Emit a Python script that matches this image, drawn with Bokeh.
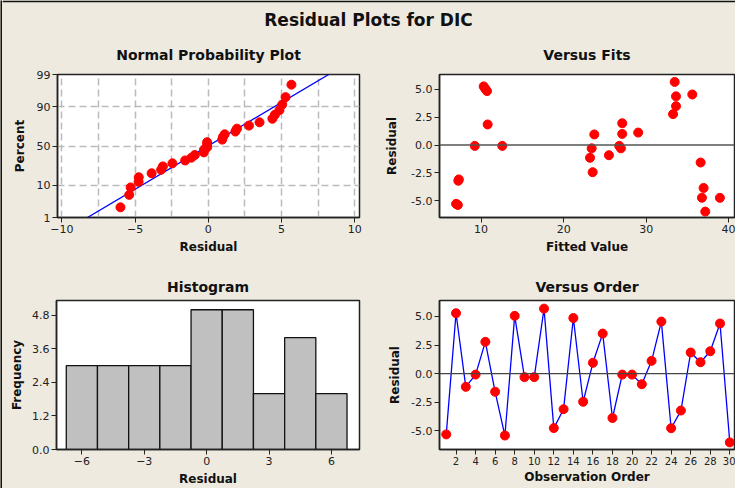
import numpy as np
from statistics import NormalDist
from bokeh.plotting import figure
from bokeh.layouts import column, row
from bokeh.models import FixedTicker, PrintfTickFormatter, Span, Label
from bokeh.embed import file_html
from bokeh.resources import INLINE

# ---------------- data ----------------
observation = list(range(1, 31))
residuals = [-5.30, 5.28, -1.15, -0.08, 2.78, -1.58, -5.40, 5.05, -0.30, -0.30,
             5.68, -4.75, -3.10, 4.86, -2.45, 0.95, 3.50, -3.87, -0.08, -0.08,
             -0.92, 1.12, 4.55, -4.76, -3.22, 1.85, 1.00, 1.96, 4.38, -6.00]
fitted = [6.98, 10.32, 23.19, 9.24, 33.24, 36.58, 7.19, 10.52, 23.39, 26.93,
          33.44, 36.74, 7.31, 10.72, 23.51, 23.71, 33.60, 36.94, 12.57, 26.73,
          25.48, 29.02, 35.57, 38.91, 7.25, 10.80, 27.09, 27.09, 33.60, 37.14]
hist_centers = [-6.0, -4.5, -3.0, -1.5, 0.0, 1.5, 3.0, 4.5, 6.0]
hist_counts = [3, 3, 3, 3, 5, 5, 2, 4, 2]
pct_ticks = [1, 10, 50, 90, 99]
npp_x_ticks = [-10, -5, 0, 5, 10]
npp_x_grid = [-10, -7.5, -5, -2.5, 0, 2.5, 5, 7.5, 10]
fits_x_ticks = [10, 20, 30, 40]
resid_y_ticks = [-5.0, -2.5, 0.0, 2.5, 5.0]
hist_x_ticks = [-6, -3, 0, 3, 6]
hist_y_ticks = [0.0, 1.2, 2.4, 3.6, 4.8]
order_x_ticks = list(range(2, 31, 2))

# ---------------- style ----------------
BG = "#EEEAE0"
FRAME = "#222222"
EDGE = "#111111"
FONT = "DejaVu Sans"
RED = "#FF0000"
BLUE = "#0000FF"

nd = NormalDist()


def style(p, ylab_standoff, xlab_standoff=4, title_standoff=10, xtick_size="11px"):
    p.background_fill_color = "white"
    p.border_fill_color = BG
    p.outline_line_color = FRAME
    p.outline_line_width = 1.5
    p.grid.visible = False
    p.title.align = "center"
    p.title.text_font = FONT
    p.title.text_font_size = "14px"
    p.title.text_font_style = "bold"
    p.title.text_color = "#111111"
    p.title.standoff = title_standoff
    for ax in list(p.xaxis) + list(p.yaxis):
        ax.axis_line_color = FRAME
        ax.axis_line_width = 1.5
        ax.major_tick_out = 5
        ax.major_tick_in = 0
        ax.major_tick_line_color = FRAME
        ax.minor_tick_line_color = None
        ax.major_label_text_font = FONT
        ax.major_label_text_font_size = "11px"
        ax.major_label_text_color = "#222222"
        ax.major_label_standoff = 2
        ax.axis_label_text_font = FONT
        ax.axis_label_text_font_size = "12px"
        ax.axis_label_text_font_style = "bold"
        ax.axis_label_text_color = "#111111"
    p.xaxis.major_label_text_font_size = xtick_size
    p.xaxis.axis_label_standoff = xlab_standoff
    p.yaxis.axis_label_standoff = ylab_standoff


common = dict(output_backend="svg", toolbar_location=None)
bg_style = {"background-color": BG}

# ---------------- Normal probability plot ----------------
n = len(residuals)
zlo, zhi = nd.inv_cdf(pct_ticks[0] / 100), nd.inv_cdf(pct_ticks[-1] / 100)
sorted_res = sorted(residuals)
npp_z = [nd.inv_cdf((i + 1 - 0.3) / (n + 0.4)) for i in range(n)]
mu = float(np.mean(residuals))
sd = float(np.std(residuals, ddof=1))

f1 = figure(width=370, height=228, x_range=(-10.3, 10.33), y_range=(zlo, zhi),
            min_border_left=55, min_border_right=13, min_border_top=42, min_border_bottom=43,
            title="Normal Probability Plot", x_axis_label="Residual", y_axis_label="Percent", **common)
style(f1, ylab_standoff=7, title_standoff=24)
f1.xaxis.ticker = FixedTicker(ticks=npp_x_ticks)
pz = [nd.inv_cdf(v / 100) for v in pct_ticks]
f1.yaxis.ticker = FixedTicker(ticks=pz)
f1.yaxis.major_label_overrides = {z: str(v) for z, v in zip(pz, pct_ticks)}
f1.xgrid.visible = True
f1.ygrid.visible = True
f1.xgrid.ticker = FixedTicker(ticks=npp_x_grid)
f1.ygrid.ticker = FixedTicker(ticks=pz)
for g in (f1.xgrid, f1.ygrid):
    g.grid_line_color = "#BBBBBB"
    g.grid_line_width = 1.5
    g.grid_line_dash = "7 4"
f1.line([mu + sd * zlo, mu + sd * zhi], [zlo, zhi], line_color=BLUE, line_width=1.3)
f1.scatter(sorted_res, npp_z, size=9, fill_color=RED, line_color=RED)

# ---------------- Versus fits ----------------
f2 = figure(width=363, height=228, x_range=(4.97, 40.68), y_range=(-6.53, 6.35),
            min_border_left=67, min_border_right=1, min_border_top=42, min_border_bottom=43,
            title="Versus Fits", x_axis_label="Fitted Value", y_axis_label="Residual", **common)
style(f2, ylab_standoff=9, title_standoff=24)
f2.xaxis.ticker = FixedTicker(ticks=fits_x_ticks)
f2.yaxis.ticker = FixedTicker(ticks=resid_y_ticks)
f2.yaxis.formatter = PrintfTickFormatter(format="%.1f")
f2.add_layout(Span(location=0, dimension="width", line_color="#555555", line_width=1.5))
f2.scatter(fitted, residuals, size=9, fill_color=RED, line_color=RED)

# ---------------- Histogram ----------------
bin_w = hist_centers[1] - hist_centers[0]
f3 = figure(width=370, height=228, x_range=(-7.22, 7.35), y_range=(0, 5.33),
            min_border_left=54, min_border_right=13, min_border_top=40, min_border_bottom=38,
            title="Histogram", x_axis_label="Residual", y_axis_label="Frequency", **common)
style(f3, ylab_standoff=5, title_standoff=12)
f3.xaxis.ticker = FixedTicker(ticks=hist_x_ticks)
f3.yaxis.ticker = FixedTicker(ticks=hist_y_ticks)
f3.yaxis.formatter = PrintfTickFormatter(format="%.1f")
f3.vbar(x=hist_centers, top=hist_counts, width=bin_w, bottom=0,
        fill_color="#C0C0C0", line_color="#111111", line_width=1.3)

# ---------------- Versus order ----------------
f4 = figure(width=363, height=228, x_range=(0.31, 30.48), y_range=(-6.62, 6.39),
            min_border_left=67, min_border_right=1, min_border_top=40, min_border_bottom=38,
            title="Versus Order", x_axis_label="Observation Order", y_axis_label="Residual", **common)
style(f4, ylab_standoff=6, xlab_standoff=2, title_standoff=12, xtick_size="10px")
f4.xaxis.ticker = FixedTicker(ticks=order_x_ticks)
f4.yaxis.ticker = FixedTicker(ticks=resid_y_ticks)
f4.yaxis.formatter = PrintfTickFormatter(format="%.1f")
f4.add_layout(Span(location=0, dimension="width", line_color="#444444", line_width=1.3))
f4.line(observation, residuals, line_color=BLUE, line_width=1.3)
f4.scatter(observation, residuals, size=9, fill_color=RED, line_color=RED)

# ---------------- main title (top edge of the outer frame as border fill) ----------------
ft = figure(width=733, height=32, x_range=(0, 733), y_range=(0, 30),
            min_border_top=2, min_border_left=0, min_border_right=0, min_border_bottom=0,
            **common)
ft.axis.visible = False
ft.grid.visible = False
ft.outline_line_color = None
ft.background_fill_color = BG
ft.border_fill_color = EDGE
ft.add_layout(Label(x=366, y=13, text="Residual Plots for DIC", text_align="center",
                    text_baseline="middle", text_font=FONT, text_font_size="17px",
                    text_font_style="bold", text_color="#111111"))

# ---------------- left edge of the outer frame ----------------
bar = figure(width=2, height=488, x_range=(0, 1), y_range=(0, 1), min_border=0, **common)
bar.axis.visible = False
bar.grid.visible = False
bar.outline_line_color = None
bar.background_fill_color = EDGE
bar.border_fill_color = EDGE

top_row = row(f1, f2, spacing=0, styles=bg_style)
bottom_row = row(f3, f4, spacing=0, styles=bg_style)
body = column(ft, top_row, bottom_row, spacing=0, styles=bg_style)
p = row(bar, body, spacing=0, styles=bg_style)

open("out.html", "w").write(file_html(p, INLINE))
